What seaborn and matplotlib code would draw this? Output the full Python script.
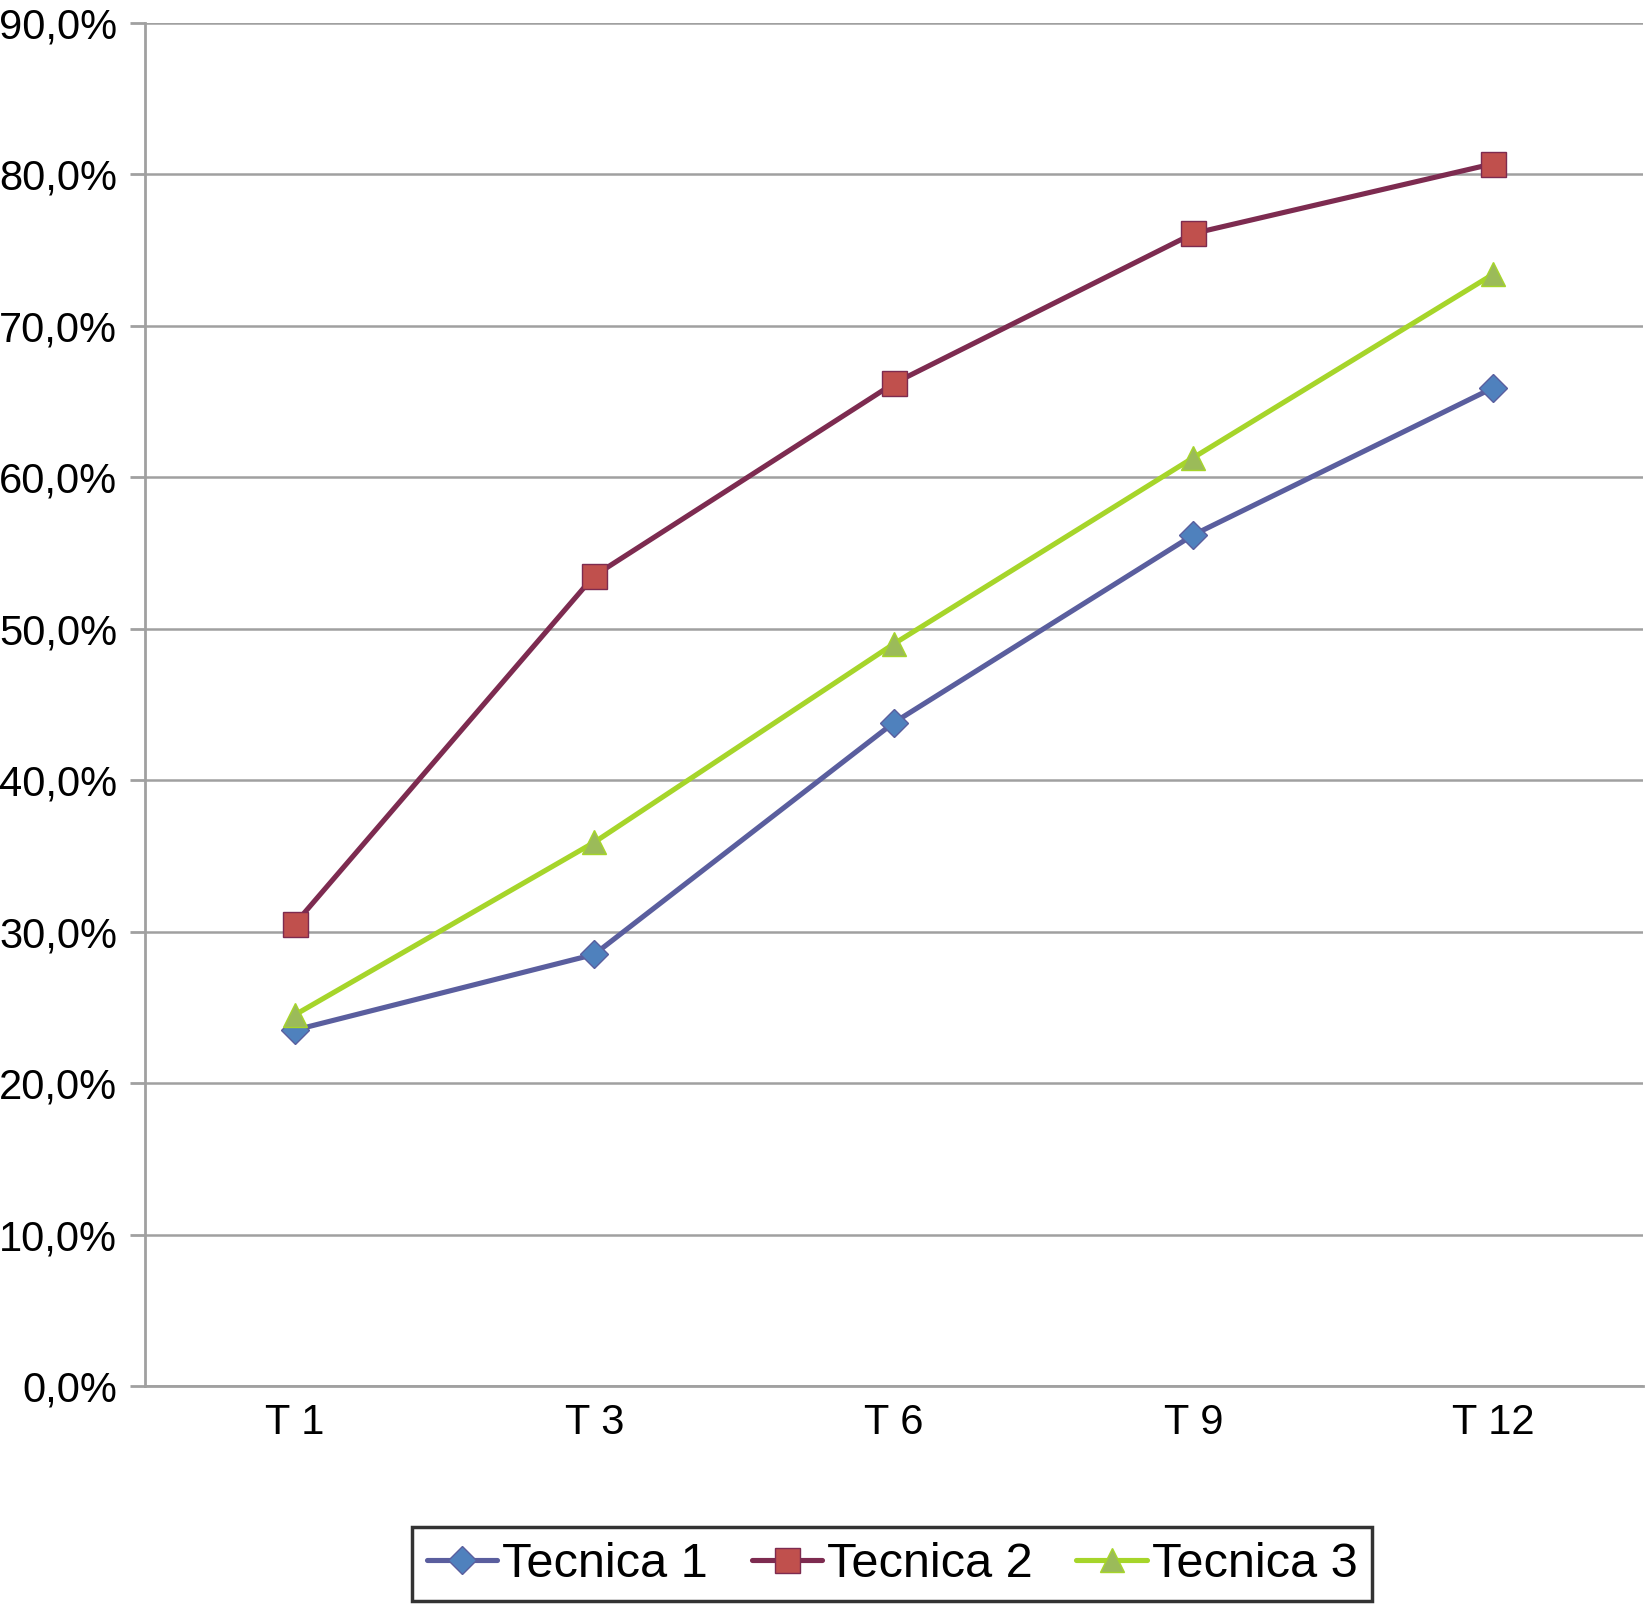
import matplotlib
matplotlib.use("Agg")
import matplotlib.pyplot as plt
import seaborn as sns
import pandas as pd

# values (percent)
labels = ["T 1", "T 3", "T 6", "T 9", "T 12"]
tec1 = [23.5, 28.5, 43.8, 56.2, 65.9]
tec2 = [30.5, 53.5, 66.2, 76.1, 80.7]
tec3 = [24.5, 35.9, 49.0, 61.3, 73.4]
series = ["Tecnica 1", "Tecnica 2", "Tecnica 3"]

line_cols = ["#5A5E9E", "#7D2B50", "#A6D52A"]
mark_cols = ["#4F81BD", "#C0504D", "#9BBB59"]
markers = ["D", "s", "^"]
msizes = [14, 18, 17]

sns.set_style("white")
plt.rcParams["font.family"] = ["Liberation Sans", "DejaVu Sans"]
plt.rcParams["text.color"] = "black"
plt.rcParams["xtick.color"] = "black"
plt.rcParams["ytick.color"] = "black"

fig = plt.figure(figsize=(16.46, 16.05), dpi=100)
ax = fig.add_axes([0.088, 0.1364, 0.910, 0.8493])

x = list(range(len(labels)))
for name, vals, lc, mc, m, ms in zip(series, [tec1, tec2, tec3], line_cols, mark_cols, markers, msizes):
    df = pd.DataFrame({"x": x, "y": vals})
    sns.lineplot(data=df, x="x", y="y", ax=ax, color=lc, lw=3.7, marker=m,
                 markersize=ms, markerfacecolor=mc, markeredgecolor=lc,
                 markeredgewidth=1.0, label=name, zorder=3)

ax.set_xlim(-0.5, len(labels) - 0.5)
ax.set_ylim(0, 90)
ax.set_yticks(range(0, 91, 10))
ax.set_yticklabels([f"{v},0%" for v in range(0, 91, 10)], fontsize=30)
ax.set_xticks([i - 0.5 for i in range(len(labels) + 1)])
ax.set_xticklabels([])
ax.set_xticks(x, minor=True)
ax.set_xticklabels(labels, minor=True, fontsize=30)
ax.tick_params(axis="x", which="major", length=14, width=2, color="#A0A0A0", direction="out")
ax.tick_params(axis="x", which="minor", length=0, pad=12, labelcolor="black")
ax.tick_params(axis="y", length=11, width=2, color="#A0A0A0", direction="out", pad=9,
               left=True, labelcolor="black")
ax.set_xlabel("")
ax.set_ylabel("")

ax.grid(axis="y", color="#A0A0A0", lw=1.8, zorder=0)
ax.grid(axis="x", visible=False)
for s in ["top", "right"]:
    ax.spines[s].set_visible(False)
for s in ["left", "bottom"]:
    ax.spines[s].set_color("#A0A0A0")
    ax.spines[s].set_linewidth(2)

ax.legend_.remove()
h, l = ax.get_legend_handles_labels()
leg = fig.legend(h, l, loc="center", bbox_to_anchor=(0.542, 0.0255), ncol=3,
                 fontsize=35, frameon=True, fancybox=False, handlelength=1.45,
                 handletextpad=0.1, columnspacing=0.9, borderpad=0.3)
leg.get_frame().set_edgecolor("black")
leg.get_frame().set_linewidth(2.5)

fig.savefig("out.png", dpi=100)
